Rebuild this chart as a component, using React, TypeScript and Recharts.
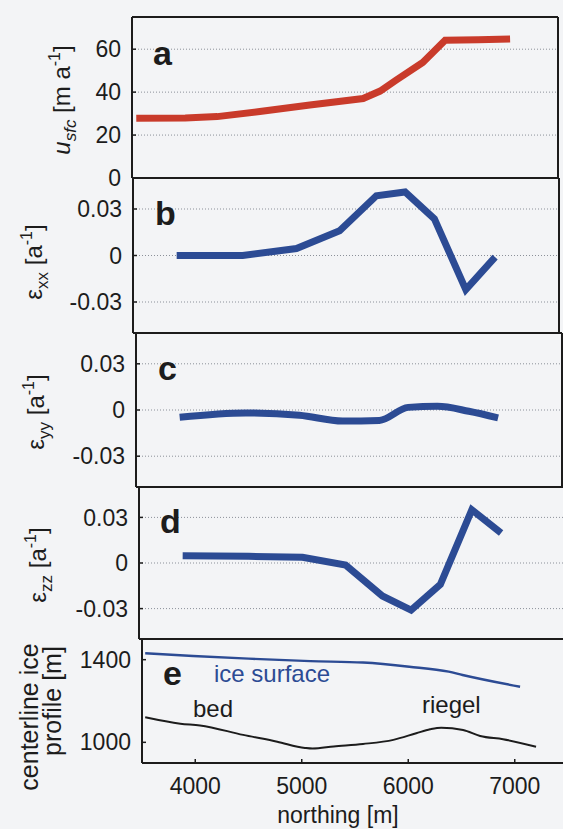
import React from "react";
import { LineChart, Line, XAxis, YAxis, CartesianGrid } from "recharts";

// shared x axis (northing, m)
const northingDomain = [3500, 7500];
const northingTicks = [4000, 5000, 6000, 7000];

// panel a: surface velocity
const velocityX = [3540, 4000, 4300, 4700, 5170, 5670, 5830, 5980, 6230, 6440, 6750, 7050];
const velocityU = [27.8, 28, 28.6, 31, 34, 37, 40.5, 45.6, 53.8, 64.2, 64.4, 64.8];

// panels b-d: strain rates, same nodes
const strainX = [3910, 4530, 5035, 5440, 5785, 6055, 6330, 6625, 6900];
const strainXX = [0, 0, 0.0045, 0.016, 0.0385, 0.041, 0.0236, -0.022, -0.001];
const strainYY = [-0.0047, -0.0019, -0.0034, -0.0072, -0.0068, 0.0017, 0.0024, -0.0008, -0.0051];
const strainZZ = [0.0047, 0.0044, 0.0038, -0.0013, -0.0217, -0.031, -0.014, 0.035, 0.0198];
const strainTicks = [-0.03, 0, 0.03];
const strainDomain = [-0.05, 0.05];

// panel e: centerline profile
const surfaceX = [3530, 3980, 4500, 5080, 5575, 6010, 6380, 6510, 7050];
const surfaceZ = [1431, 1418, 1405, 1393, 1386, 1366, 1342, 1326, 1269];
const bedX = [3530, 3860, 4045, 4450, 4770, 5030, 5100, 5300, 5575, 5860, 6075, 6205, 6310, 6515, 6675, 6890, 7200];
const bedZ = [1121, 1090, 1082, 1036, 1003, 973, 970, 980, 992, 1012, 1044, 1063, 1071, 1060, 1031, 1015, 979];

const velocityTicks = [0, 20, 40, 60];
const profileTicks = [1000, 1400];

const INK = "#1c1c1c";
const RED = "#c93b2b";
const BLUE = "#2c4b94";
const PLOT_W = 426;
const PAD = 12;

const zip = (xs: number[], vs: number[]) => xs.map((x, i) => ({ x, v: vs[i] }));
const fmt = (v: number) => (v === 0 ? "0" : String(v));

type PanelProps = {
  top: number;
  bottom: number;
  left: number;
  yDomain: number[];
  yTicks: number[];
  grid?: boolean;
  xLabels?: boolean;
  padBottom?: number;
  children: React.ReactNode;
};

function Panel({ top, bottom, left, yDomain, yTicks, grid = true, xLabels = false, padBottom = PAD, children }: PanelProps) {
  const frame = { stroke: INK, strokeWidth: 2 };
  const tickLine = { stroke: INK, strokeWidth: 1.5 };
  const tickText = { fill: INK, fontSize: 23 };
  return (
    <div style={{ position: "absolute", left: 0, top: top - PAD }}>
      <LineChart
        width={left + PLOT_W + PAD}
        height={PAD + (bottom - top) + padBottom}
        margin={{ top: 0, right: 0, bottom: 0, left: 0 }}
      >
        {grid && <CartesianGrid vertical={false} stroke="#8b9099" strokeDasharray="1 2" />}
        <XAxis
          type="number"
          dataKey="x"
          domain={northingDomain}
          ticks={northingTicks}
          allowDataOverflow
          interval={0}
          height={padBottom}
          axisLine={frame}
          tickLine={tickLine}
          tickSize={-4}
          tickMargin={19}
          tick={xLabels ? tickText : false}
        />
        <XAxis
          xAxisId="top"
          orientation="top"
          type="number"
          domain={northingDomain}
          ticks={northingTicks}
          allowDataOverflow
          interval={0}
          height={PAD}
          axisLine={frame}
          tickLine={tickLine}
          tickSize={-4}
          tick={false}
        />
        <YAxis
          type="number"
          domain={yDomain}
          ticks={yTicks}
          allowDataOverflow
          interval={0}
          width={left}
          axisLine={frame}
          tickLine={tickLine}
          tickSize={-4}
          tickMargin={15}
          tick={tickText}
          tickFormatter={fmt}
        />
        <YAxis
          yAxisId="right"
          orientation="right"
          type="number"
          domain={yDomain}
          ticks={yTicks}
          allowDataOverflow
          interval={0}
          width={PAD}
          axisLine={frame}
          tickLine={tickLine}
          tickSize={-4}
          tick={false}
        />
        {children}
      </LineChart>
    </div>
  );
}

function Letter({ x, y, children }: { x: number; y: number; children: React.ReactNode }) {
  return (
    <text x={x} y={y} fontSize={34} fontWeight="bold" fill={INK}>
      {children}
    </text>
  );
}

function StrainTitle({ x, y, sub }: { x: number; y: number; sub: string }) {
  return (
    <text transform={`rotate(-90 ${x} ${y})`} x={x} y={y} textAnchor="middle" fontSize={24} fill={INK}>
      ε<tspan fontSize={17} dy={6}>{sub}</tspan>
      <tspan dy={-6}> [a</tspan>
      <tspan fontSize={16} dy={-10}>-1</tspan>
      <tspan dy={10}>]</tspan>
    </text>
  );
}

export default function App() {
  return (
    <div
      style={{
        position: "absolute",
        left: 0,
        top: 0,
        width: 563,
        height: 829,
        overflow: "hidden",
        background: "#f3f4f6",
        fontFamily: '"Liberation Sans", Arial, sans-serif',
      }}
    >
      <Panel top={17} bottom={178} left={132} yDomain={[0, 75]} yTicks={velocityTicks}>
        <Line data={zip(velocityX, velocityU)} dataKey="v" type="linear" stroke={RED} strokeWidth={7} dot={false} isAnimationActive={false} />
        <Letter x={153} y={60}>a</Letter>
        <text transform="rotate(-90 70 95)" x={70} y={95} textAnchor="middle" fontSize={24} fill={INK}>
          <tspan fontStyle="italic">u</tspan>
          <tspan fontStyle="italic" fontSize={17} dy={6}>sfc</tspan>
          <tspan dy={-6}> [m a</tspan>
          <tspan fontSize={16} dy={-10}>-1</tspan>
          <tspan dy={10}>]</tspan>
        </text>
      </Panel>

      <Panel top={178} bottom={333} left={133} yDomain={strainDomain} yTicks={strainTicks}>
        <Line data={zip(strainX, strainXX)} dataKey="v" type="linear" stroke={BLUE} strokeWidth={7} dot={false} isAnimationActive={false} />
        <Letter x={155} y={59}>b</Letter>
        <StrainTitle x={42} y={96} sub="xx" />
      </Panel>

      <Panel top={333} bottom={487} left={136} yDomain={strainDomain} yTicks={strainTicks}>
        <Line data={zip(strainX, strainYY)} dataKey="v" type="monotone" stroke={BLUE} strokeWidth={7} dot={false} isAnimationActive={false} />
        <Letter x={158} y={59}>c</Letter>
        <StrainTitle x={44} y={91} sub="yy" />
      </Panel>

      <Panel top={487} bottom={639} left={139} yDomain={strainDomain} yTicks={strainTicks}>
        <Line data={zip(strainX, strainZZ)} dataKey="v" type="linear" stroke={BLUE} strokeWidth={7} dot={false} isAnimationActive={false} />
        <Letter x={160} y={58}>d</Letter>
        <StrainTitle x={46} y={90} sub="zz" />
      </Panel>

      <Panel top={639} bottom={763} left={142} yDomain={[900, 1500]} yTicks={profileTicks} grid={false} xLabels padBottom={66}>
        <Line data={zip(surfaceX, surfaceZ)} dataKey="v" type="monotone" stroke={BLUE} strokeWidth={2.4} dot={false} isAnimationActive={false} />
        <Line data={zip(bedX, bedZ)} dataKey="v" type="monotone" stroke={INK} strokeWidth={2} dot={false} isAnimationActive={false} />
        <Letter x={163} y={58}>e</Letter>
        <text x={214} y={55} fontSize={24} fill={BLUE}>ice surface</text>
        <text x={193} y={90} fontSize={24} fill={INK}>bed</text>
        <text x={422} y={86} fontSize={24} fill={INK}>riegel</text>
        <text transform="rotate(-90 38 90)" x={38} y={90} textAnchor="middle" fontSize={25} fill={INK}>centerline ice</text>
        <text transform="rotate(-90 61 74)" x={61} y={74} textAnchor="middle" fontSize={25} fill={INK}>profile [m]</text>
        <text x={338} y={196} textAnchor="middle" fontSize={23} fill={INK}>northing [m]</text>
      </Panel>
    </div>
  );
}
